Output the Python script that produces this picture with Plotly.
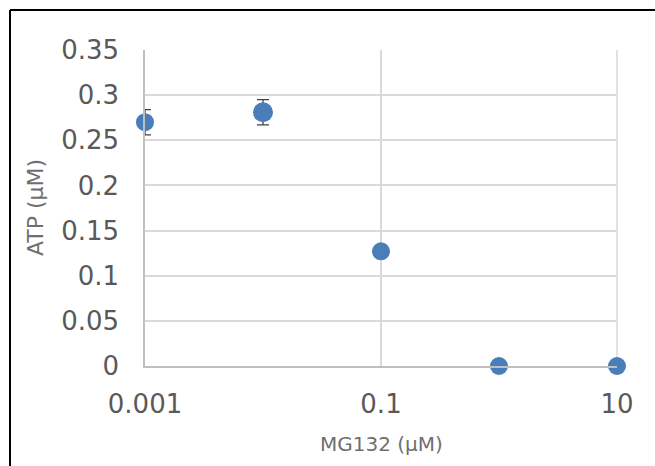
import plotly.graph_objects as go

# MG132 concentration (µM) and measured ATP (µM) with error
mg132_um = [0.001, 0.01, 0.1, 1, 10]
atp_um = [0.270, 0.281, 0.127, 0.0, 0.0]
atp_err = [0.014, 0.014, None, None, None]

x_tick_vals = [0.001, 0.1, 10]
x_tick_text = ["0.001", "0.1", "10"]
y_tick_vals = [0, 0.05, 0.1, 0.15, 0.2, 0.25, 0.3, 0.35]
y_tick_text = ["0", "0.05", "0.1", "0.15", "0.2", "0.25", "0.3", "0.35"]

W, H = 655, 466
L, R, T, B = 145, 38, 50, 100
pw, ph = W - L - R, H - T - B

fig = go.Figure()
fig.add_trace(go.Scatter(
    x=mg132_um,
    y=atp_um,
    mode="markers",
    marker=dict(color="#4a7ebb", opacity=1, size=[18, 20, 18, 18, 18],
                line=dict(width=0)),
    error_y=dict(type="data", array=atp_err, visible=True,
                 color="#404040", thickness=1.3, width=6),
    cliponaxis=False,
    showlegend=False,
))

tick_font = dict(family="DejaVu Sans, Verdana, sans-serif", size=26, color="#595959")
title_font = dict(family="DejaVu Sans, Verdana, sans-serif", size=20, color="#6f6f6f")

fig.update_xaxes(
    type="log", range=[-3, 1],
    tickvals=x_tick_vals, ticktext=x_tick_text,
    showgrid=True, gridcolor="#d9d9d9", gridwidth=1.5,
    showline=True, linecolor="#bfbfbf", linewidth=1.5,
    zeroline=False, ticks="", ticklabelstandoff=14,
    tickfont=tick_font,
)
fig.update_yaxes(
    range=[0, 0.35],
    tickvals=y_tick_vals, ticktext=y_tick_text,
    showgrid=True, gridcolor="#d9d9d9", gridwidth=1.5,
    showline=True, linecolor="#bfbfbf", linewidth=1.5,
    zeroline=False, ticks="", ticklabelstandoff=19,
    tickfont=tick_font,
)

# frame right edge
fig.add_shape(type="line", xref="paper", yref="paper", x0=1, x1=1, y0=0, y1=1,
              line=dict(color="#d9d9d9", width=1.5), layer="below")

# outer chart border (left and top edges fall inside the page)
bx = (10 - L) / pw
by = (H - B - 10) / ph
fig.add_shape(type="line", xref="paper", yref="paper",
              x0=bx, x1=bx, y0=by, y1=-(H - T - ph) / ph,
              line=dict(color="#000000", width=2))
fig.add_shape(type="line", xref="paper", yref="paper",
              x0=bx, x1=(W - L) / pw, y0=by, y1=by,
              line=dict(color="#000000", width=2))

fig.add_annotation(text="MG132 (µM)", xref="paper", yref="paper", x=0.5, y=0,
                   xanchor="center", yanchor="middle", yshift=-78,
                   showarrow=False, font=title_font)
fig.add_annotation(text="ATP (µM)", xref="paper", yref="paper", x=0, y=0.5,
                   xanchor="center", yanchor="middle", xshift=-110, textangle=-90,
                   showarrow=False, font=dict(title_font, size=22))

fig.update_layout(
    width=W, height=H,
    margin=dict(l=L, r=R, t=T, b=B),
    paper_bgcolor="white", plot_bgcolor="white",
)

fig.write_html("out.html")
